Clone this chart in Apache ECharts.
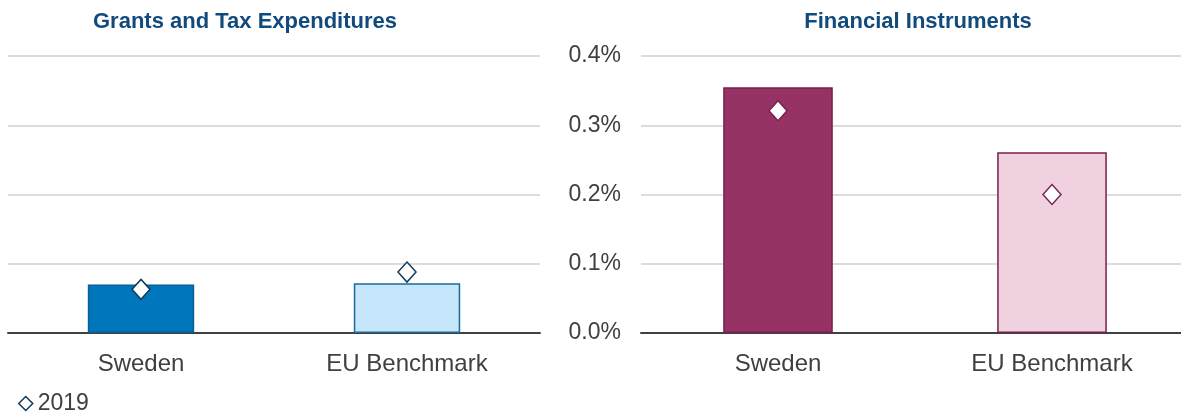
<!DOCTYPE html>
<html>
<head>
<meta charset="utf-8">
<script src="https://cdn.jsdelivr.net/npm/echarts@6/dist/echarts.min.js"></script>
<style>
  html, body { margin: 0; padding: 0; background: #fff; overflow: hidden; }
  /* right panel runs a few px past the window edge, as in the source */
  #chart { width: 1189px; height: 416px; }
</style>
</head>
<body>
<div id="chart"></div>
<script>
// values in % of GDP
const categories = ['Sweden', 'EU Benchmark'];
const grantsLatest = [0.070, 0.072];
const grants2019 = [0.063, 0.088];
const finLatest = [0.355, 0.261];
const fin2019 = [0.321, 0.200];
const yTicks = [0, 0.1, 0.2, 0.3, 0.4];

const textColor = '#404040';
const fontFamily = 'Liberation Sans, Arial, sans-serif';

const leftBars = [
  { fill: '#0077bd', border: '#0b5f92' },
  { fill: '#c5e6fb', border: '#1a6a9c' }
];
const rightBars = [
  { fill: '#963264', border: '#7a1f4e' },
  { fill: '#f0d1e0', border: '#7a1f4e' }
];

const chart = echarts.init(document.getElementById('chart'));

const yAxisBase = (showLabels) => ({
  type: 'value',
  min: yTicks[0],
  max: yTicks[yTicks.length - 1],
  interval: 0.1,
  axisLine: { show: false },
  axisTick: { show: false },
  axisLabel: {
    show: showLabels,
    color: textColor,
    fontSize: 23,
    fontFamily: fontFamily,
    margin: 20,
    formatter: (v) => v.toFixed(1) + '%'
  },
  splitLine: { lineStyle: { color: '#dcdcdc', width: 2 } }
});

const xAxisBase = () => ({
  type: 'category',
  data: categories,
  axisLine: { lineStyle: { color: '#404040', width: 2 } },
  axisTick: { show: false },
  axisLabel: { color: textColor, fontSize: 24, fontFamily: fontFamily, margin: 19 }
});

const barData = (vals, styles) => vals.map((v, i) => ({
  value: v,
  itemStyle: { color: styles[i].fill, borderColor: styles[i].border, borderWidth: 1.5 }
}));

const titleStyle = { color: '#114a7c', fontSize: 22, fontWeight: 'bold', fontFamily: fontFamily };

const option = {
  animation: false,
  title: [
    { text: 'Grants and Tax Expenditures', left: 240, top: 6, textAlign: 'center', textStyle: titleStyle },
    { text: 'Financial Instruments', left: 913, top: 6, textAlign: 'center', textStyle: titleStyle }
  ],
  legend: {
    left: 13, top: 387,
    itemWidth: 14, itemHeight: 14, itemGap: 4,
    textStyle: { color: textColor, fontSize: 23, fontFamily: fontFamily },
    data: [{
      name: '2019',
      icon: 'diamond',
      itemStyle: { color: '#fff', borderColor: '#0d3a5c', borderWidth: 1.5 }
    }]
  },
  grid: [
    { left: 8, width: 532, top: 56, bottom: 83 },
    { left: 641, width: 548, top: 56, bottom: 83 }
  ],
  xAxis: [
    Object.assign(xAxisBase(), { gridIndex: 0 }),
    Object.assign(xAxisBase(), { gridIndex: 1 })
  ],
  yAxis: [
    Object.assign(yAxisBase(false), { gridIndex: 0 }),
    Object.assign(yAxisBase(true), { gridIndex: 1 })
  ],
  series: [
    {
      type: 'bar', name: 'Grants', xAxisIndex: 0, yAxisIndex: 0,
      barWidth: '40%', data: barData(grantsLatest, leftBars), z: 2
    },
    {
      type: 'scatter', name: '2019', xAxisIndex: 0, yAxisIndex: 0,
      symbol: 'diamond', symbolSize: [18, 20], z: 5,
      itemStyle: { color: '#fff', borderColor: '#0d3a5c', borderWidth: 1.5, opacity: 1 },
      data: grants2019
    },
    {
      type: 'bar', name: 'Financial', xAxisIndex: 1, yAxisIndex: 1,
      barWidth: '40%', data: barData(finLatest, rightBars), z: 2
    },
    {
      type: 'scatter', name: '2019', xAxisIndex: 1, yAxisIndex: 1,
      symbol: 'diamond', symbolSize: [18, 20], z: 5,
      itemStyle: { color: '#fff', borderColor: '#7a1f4e', borderWidth: 1.5, opacity: 1 },
      data: fin2019
    }
  ]
};

chart.setOption(option);
</script>
</body>
</html>
